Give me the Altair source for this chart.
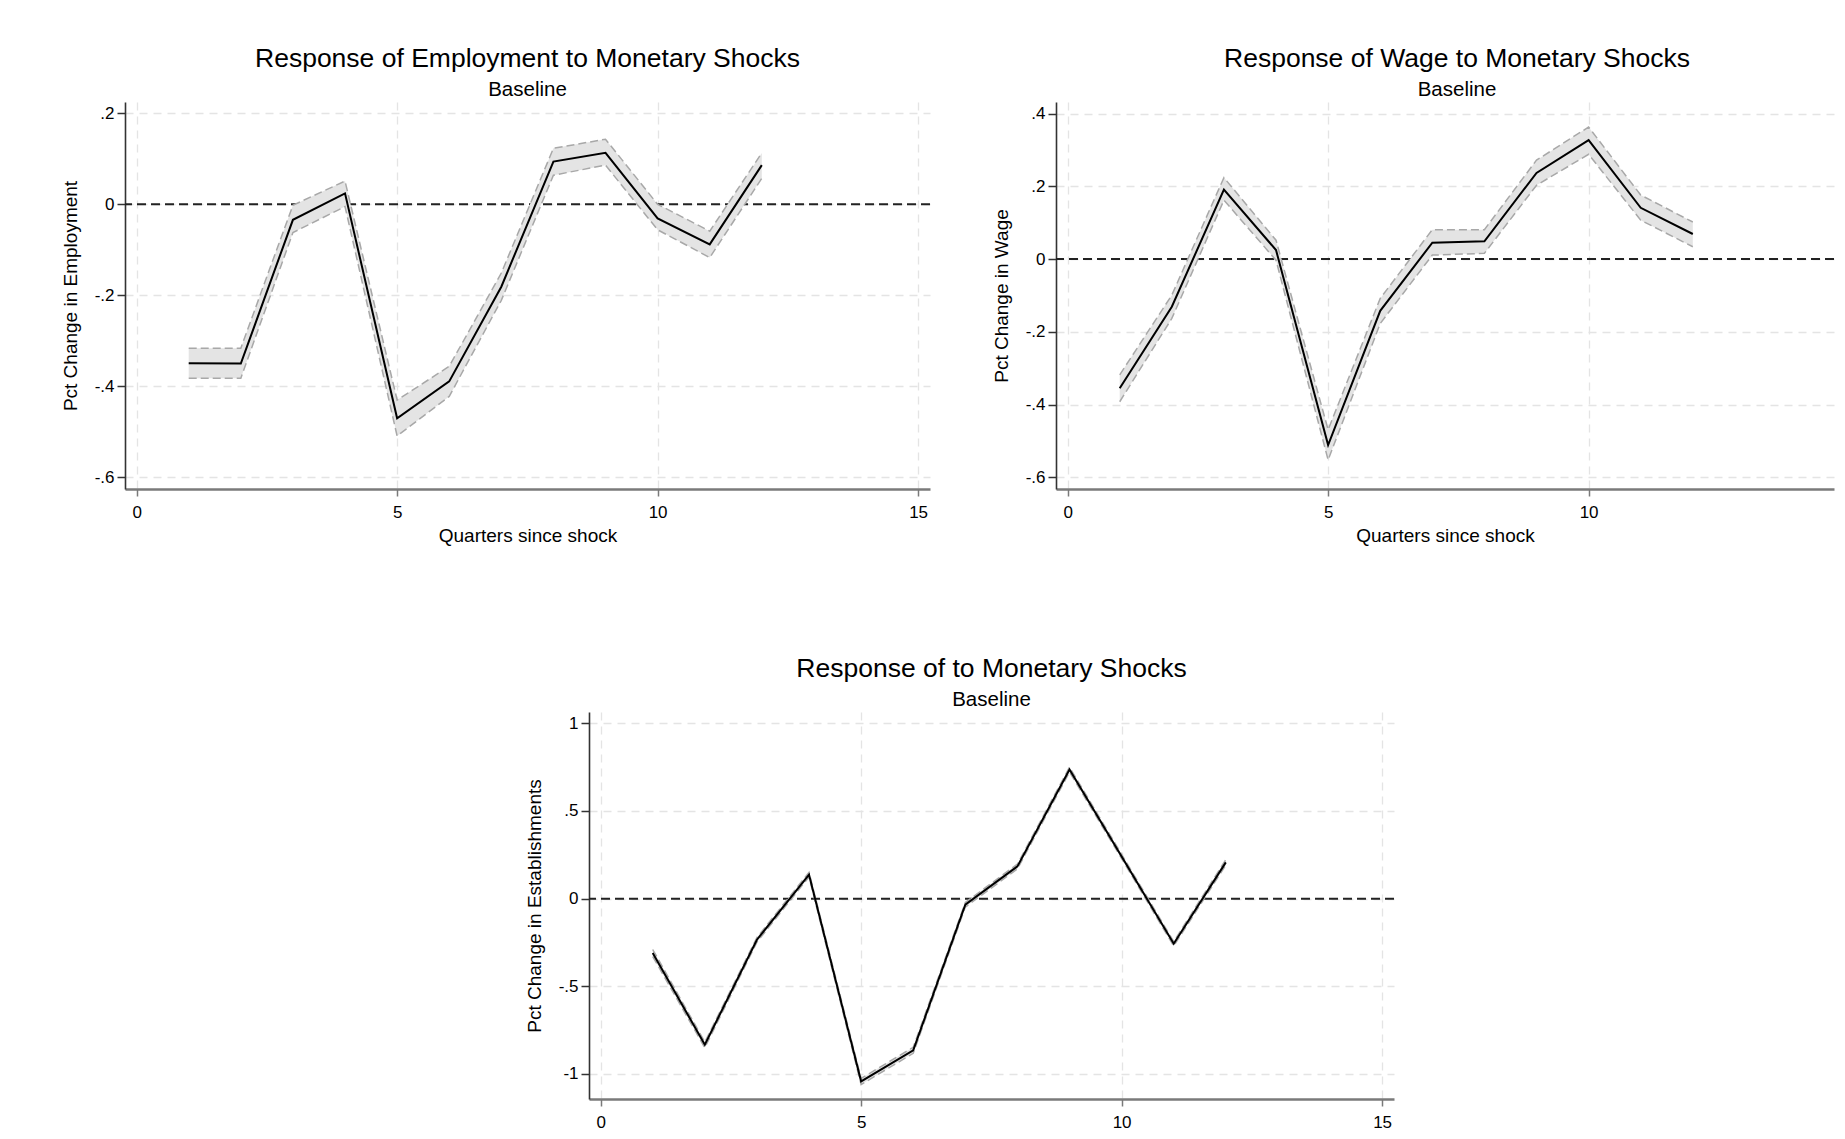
import altair as alt
import pandas as pd

FONT = "Liberation Sans"

quarters = [1, 2, 3, 4, 5, 6, 7, 8, 9, 10, 11, 12]
x_ticks = [0, 5, 10, 15]

emp_est = [-0.349, -0.350, -0.034, 0.024, -0.470, -0.389, -0.181, 0.094, 0.113, -0.031, -0.088, 0.086]
emp_hi = [-0.316, -0.316, -0.002, 0.051, -0.430, -0.356, -0.151, 0.123, 0.143, 0.000, -0.059, 0.113]
emp_lo = [-0.382, -0.382, -0.062, -0.005, -0.509, -0.422, -0.211, 0.064, 0.086, -0.056, -0.117, 0.057]
emp_yticks = [0.2, 0, -0.2, -0.4, -0.6]

wage_est = [-0.355, -0.131, 0.191, 0.025, -0.511, -0.142, 0.045, 0.049, 0.237, 0.327, 0.141, 0.069]
wage_hi = [-0.318, -0.099, 0.224, 0.052, -0.469, -0.108, 0.081, 0.081, 0.272, 0.363, 0.176, 0.102]
wage_lo = [-0.392, -0.163, 0.162, -0.003, -0.552, -0.177, 0.011, 0.016, 0.203, 0.288, 0.107, 0.034]
wage_yticks = [0.4, 0.2, 0, -0.2, -0.4, -0.6]

est_est = [-0.310, -0.833, -0.234, 0.137, -1.042, -0.865, -0.034, 0.184, 0.736, 0.241, -0.257, 0.207]
est_hi = [-0.290, -0.818, -0.222, 0.150, -1.025, -0.848, -0.022, 0.197, 0.750, 0.253, -0.245, 0.222]
est_lo = [-0.330, -0.850, -0.248, 0.124, -1.060, -0.882, -0.048, 0.170, 0.722, 0.229, -0.270, 0.192]
est_yticks = [1, 0.5, 0, -0.5, -1]

YLABEL = ("datum.value == 0 ? '0' : (datum.value < 0 ? '-' : '') + "
          "(abs(datum.value) >= 1 ? format(abs(datum.value), 'd') : "
          "substring(format(abs(datum.value), '.1f'), 1))")

PH = 387
PX_PER_Q = 52.1
X_LEFT = -0.223


def panel(title, ytitle, est, hi, lo, ydomain, yticks, width, xtitle, title_dx=0):
    df = pd.DataFrame({"q": quarters, "est": est, "hi": hi, "lo": lo})
    x_right = X_LEFT + width / PX_PER_Q
    xvals = [t for t in x_ticks if t <= x_right]
    xscale = alt.Scale(domain=[X_LEFT, x_right], nice=False, zero=False)
    yscale = alt.Scale(domain=ydomain, nice=False, zero=False)
    xaxis = alt.Axis(values=xvals, title=xtitle, format="d",
                     grid=True, gridColor="#e4e4e4", gridDash=[8, 6], gridWidth=1.3,
                     domainColor="#7a7a7a", domainWidth=2.5,
                     tickColor="#7a7a7a", tickSize=7, tickWidth=1.5,
                     labelFont=FONT, labelFontSize=17, labelColor="black",
                     labelPadding=8, labelFlush=False,
                     titleFont=FONT, titleFontSize=19, titleFontWeight="normal",
                     titleColor="black", titlePadding=6)
    yaxis = alt.Axis(values=yticks, title=ytitle, labelExpr=YLABEL,
                     grid=True, gridColor="#e4e4e4", gridDash=[8, 6], gridWidth=1.3,
                     domainColor="#333333", domainWidth=1.6,
                     tickColor="#333333", tickSize=8, tickWidth=1.5,
                     labelFont=FONT, labelFontSize=17, labelColor="black",
                     labelPadding=3, labelFlush=False,
                     titleFont=FONT, titleFontSize=19, titleFontWeight="normal",
                     titleColor="black", titleAngle=270, titleBaseline="bottom",
                     titleAlign="center", titleX=-45, titleY=PH / 2)
    base = alt.Chart(df)
    zero = alt.Chart(pd.DataFrame({"z": [0]})).mark_rule(
        color="#222222", strokeDash=[9, 5], strokeWidth=2
    ).encode(y=alt.Y("z:Q", scale=yscale, axis=yaxis, title=ytitle))
    band = base.mark_area(color="#e4e4e4", opacity=1).encode(
        x=alt.X("q:Q", scale=xscale, axis=xaxis, title=xtitle),
        y=alt.Y("lo:Q", scale=yscale, axis=yaxis, title=ytitle),
        y2="hi:Q",
    )
    up = base.mark_line(color="#a8a8a8", strokeDash=[8, 4], strokeWidth=1.5).encode(
        x="q:Q", y="hi:Q")
    dn = base.mark_line(color="#a8a8a8", strokeDash=[8, 4], strokeWidth=1.5).encode(
        x="q:Q", y="lo:Q")
    line = base.mark_line(color="black", strokeWidth=2).encode(x="q:Q", y="est:Q")
    return alt.layer(zero, band, up, dn, line).properties(
        width=width, height=PH,
        title=alt.TitleParams(text=title, subtitle="Baseline", font=FONT, fontSize=26.5,
                              fontWeight="normal", color="black",
                              subtitleFont=FONT, subtitleFontSize=20.5,
                              subtitleColor="black", anchor="middle", frame="group",
                              offset=2, subtitlePadding=7.5, dx=title_dx),
    )


p1 = panel("Response of Employment to Monetary Shocks", "Pct Change in Employment",
           emp_est, emp_hi, emp_lo, [-0.6255, 0.2248], emp_yticks, 805,
           "Quarters since shock")
p2 = panel("Response of Wage to Monetary Shocks", "Pct Change in Wage",
           wage_est, wage_hi, wage_lo, [-0.6318, 0.4318], wage_yticks, 778,
           "Quarters since shock", title_dx=12)
p3 = panel("Response of  to Monetary Shocks", "Pct Change in Establishments",
           est_est, est_hi, est_lo, [-1.1426, 1.0645], est_yticks, 805, None)

spacer = alt.Chart(pd.DataFrame({"a": [0], "b": [1]})).mark_rect(opacity=0).encode(
    x=alt.X("a:Q", axis=None, scale=alt.Scale(domain=[0, 1], nice=False)),
    x2="b:Q",
    y=alt.value(0),
    y2=alt.value(1),
).properties(width=399, height=1)

row1 = alt.hconcat(p1, p2, spacing=61)
row2 = alt.hconcat(spacer, p3, spacing=0)
chart = alt.vconcat(row1, row2, spacing=110).properties(
    padding={"left": 53, "top": 37, "right": 0, "bottom": 0},
    background="white",
).configure_view(stroke=None)

chart.save("out.html", embed_options={"renderer": "svg", "actions": False})
